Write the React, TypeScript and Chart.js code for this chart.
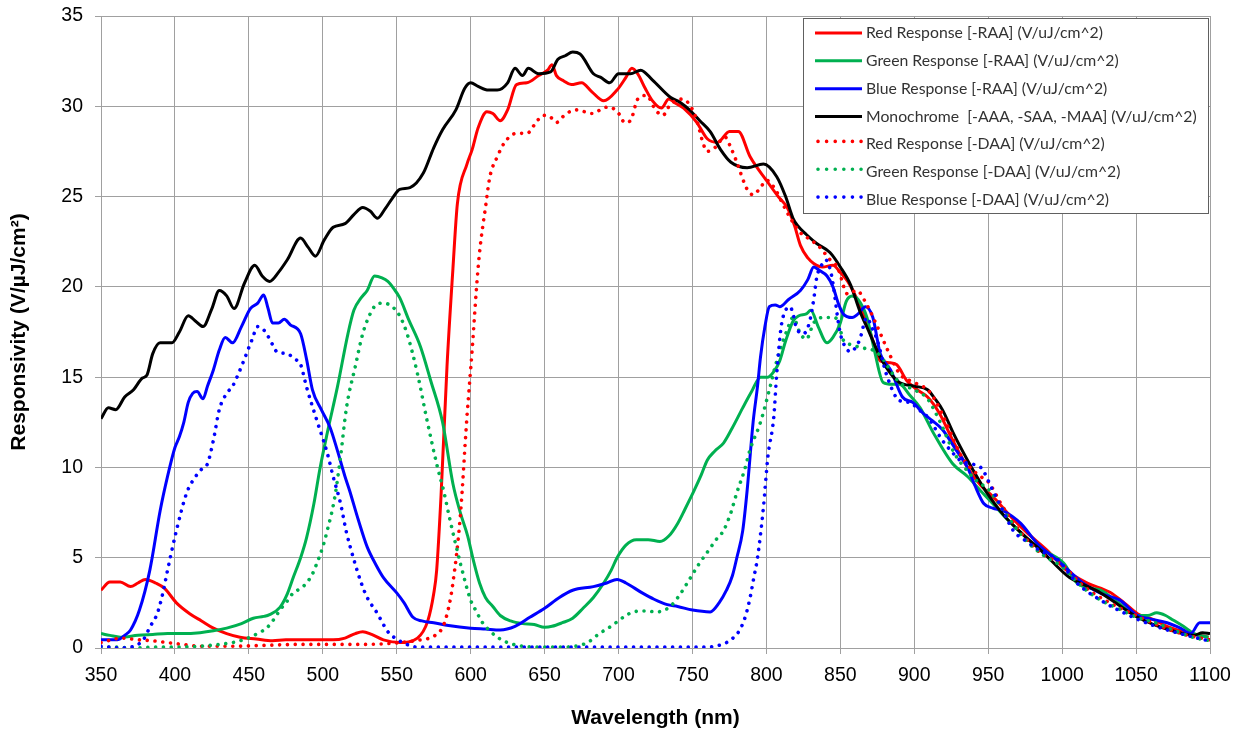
import React, { useEffect, useRef } from "react";
import { Chart, registerables } from "chart.js";

Chart.register(...registerables);

// ---- data (wavelength nm, responsivity V/uJ/cm^2) ----
const xTicksMin = 350;
const xTicksMax = 1100;
const yTicksMax = 35;

const seriesLabels = [
  "Red Response [-RAA] (V/uJ/cm^2)",
  "Green Response [-RAA] (V/uJ/cm^2)",
  "Blue Response [-RAA] (V/uJ/cm^2)",
  "Monochrome  [-AAA, -SAA, -MAA] (V/uJ/cm^2)",
  "Red Response [-DAA] (V/uJ/cm^2)",
  "Green Response [-DAA] (V/uJ/cm^2)",
  "Blue Response [-DAA] (V/uJ/cm^2)",
];

const redRaa: [number, number][] = [
  [350, 3.2], [356, 3.65], [363, 3.65], [370, 3.4], [375, 3.6], [380, 3.8], [387, 3.6], [393, 3.3],
  [401, 2.5], [410, 1.9], [418, 1.5], [426, 1.1], [435, 0.8], [444, 0.6], [455, 0.5], [466, 0.4],
  [475, 0.45], [485, 0.45], [495, 0.45], [507, 0.45], [515, 0.55], [522, 0.8], [527, 0.9], [533, 0.75],
  [541, 0.45], [552, 0.3], [564, 0.55], [571, 1.5], [575, 3.0], [577, 4.3], [580, 8.5], [584, 15.6],
  [588, 21], [591, 24.6], [597.5, 26.8], [601, 27.6], [605, 28.8], [611, 29.7], [615, 29.6], [620, 29.2],
  [625, 29.8], [631, 31.2], [638, 31.3], [646, 31.7], [652, 32.0], [655, 32.3], [658, 31.7], [663, 31.4],
  [668, 31.2], [675, 31.3], [682, 30.8], [690, 30.3], [699, 30.9], [705, 31.6], [709, 32.1], [713, 31.8],
  [718, 31.0], [723, 30.3], [729, 29.9], [734, 30.4], [738, 30.2], [744, 29.9], [753, 29.1], [760, 28.2],
  [767, 28.0], [775, 28.6], [781, 28.6], [789, 27.2], [800, 25.9], [808, 25.0], [814, 24.4], [819, 23.4],
  [823, 22.3], [828, 21.6], [832, 21.3], [838, 21.1], [845, 21.2], [850, 20.8], [855, 20.3], [862, 19.2],
  [868, 18.0], [873, 16.8], [877, 15.9], [883, 15.8], [888, 15.7], [895, 14.8], [902, 14.3], [909, 13.9],
  [917, 13.0], [926, 11.5], [936, 10.0], [945, 9.0], [953, 8.4], [965, 7.3], [976, 6.4], [990, 5.4],
  [1003, 4.3], [1017, 3.6], [1032, 3.1], [1042, 2.5], [1051, 1.9], [1061, 1.6], [1071, 1.2], [1087, 0.8],
  [1099, 0.6],
];

const greenRaa: [number, number][] = [
  [350, 0.8], [356, 0.7], [363, 0.6], [375, 0.7], [385, 0.75], [395, 0.8], [405, 0.8], [417, 0.85],
  [426, 0.95], [435, 1.1], [445, 1.35], [453, 1.65], [460, 1.75], [464, 1.85], [471, 2.25], [476, 3.0],
  [480, 3.9], [485, 5.0], [489, 6.1], [494, 8.0], [498, 9.9], [503, 11.9], [510, 14.5], [517, 17.4],
  [521, 18.7], [526, 19.4], [530, 19.8], [535, 20.6], [540, 20.5], [544, 20.3], [548, 19.9], [552, 19.4],
  [558, 18.2], [566, 16.7], [573, 14.8], [581, 12.5], [588, 9.1], [593, 7.5], [598, 6.2], [602, 4.8],
  [606, 3.6], [610, 2.8], [615, 2.3], [620, 1.8], [627, 1.5], [635, 1.35], [643, 1.3], [650, 1.15],
  [655, 1.2], [662, 1.4], [669, 1.65], [676, 2.2], [683, 2.8], [690, 3.6], [695, 4.3], [699, 5.0],
  [705, 5.7], [712, 6.0], [720, 6.0], [728, 5.9], [734, 6.2], [740, 6.9], [745, 7.7], [751, 8.7],
  [756, 9.6], [760, 10.4], [765, 10.9], [771, 11.35], [777, 12.2], [784, 13.3], [790, 14.2], [796, 15.0],
  [801, 15.0], [805, 15.3], [809, 15.9], [813, 17.0], [818, 18.1], [822, 18.4], [827, 18.5], [830, 18.7],
  [835, 17.8], [841, 16.9], [845, 17.2], [850, 18.0], [854, 19.2], [858, 19.5], [862, 19.3], [868, 18.3],
  [873, 16.5], [879, 14.7], [885, 14.6], [890, 14.6], [897, 14.0], [904, 13.3], [913, 11.9], [926, 10.2],
  [936, 9.5], [945, 8.7], [953, 8.0], [962, 7.2], [972, 6.4], [980, 5.8], [990, 5.3], [1001, 4.7],
  [1010, 3.6], [1020, 3.3], [1026, 3.2], [1038, 2.5], [1051, 1.8], [1058, 1.8], [1064, 1.95], [1070, 1.8],
  [1075, 1.55], [1082, 1.2], [1089, 0.8], [1099, 0.6],
];

const blueRaa: [number, number][] = [
  [350, 0.45], [356, 0.45], [361, 0.45], [366, 0.7], [370, 1.0], [376, 2.1], [383, 4.3], [390, 7.6],
  [395, 9.5], [400, 11.1], [403, 11.7], [406, 12.5], [409, 13.6], [412, 14.1], [415, 14.2], [419, 13.8],
  [422, 14.5], [426, 15.4], [430, 16.5], [434, 17.2], [439, 16.9], [445, 17.8], [451, 18.8], [456, 19.1],
  [460, 19.55], [463, 18.8], [466, 18.0], [470, 18.0], [474, 18.2], [478, 17.9], [485, 17.4], [489, 16.0],
  [493, 14.3], [499, 13.2], [505, 12.2], [510, 10.9], [515, 9.5], [518, 8.75], [524, 7.1], [530, 5.6],
  [536, 4.6], [541, 3.9], [550, 3.05], [555, 2.5], [561, 1.7], [567, 1.5], [575, 1.4], [585, 1.25],
  [600, 1.1], [610, 1.05], [620, 1.0], [630, 1.2], [640, 1.7], [650, 2.2], [660, 2.8], [669, 3.2],
  [683, 3.4], [692, 3.6], [699, 3.8], [705, 3.6], [716, 3.05], [724, 2.7], [733, 2.4], [740, 2.3],
  [750, 2.1], [762, 2.0], [768, 2.5], [773, 3.2], [777, 4.0], [780, 5.0], [784, 6.5], [787, 8.75],
  [791, 12.5], [794, 14.5], [796, 16.1], [799, 17.8], [802, 18.9], [806, 19.0], [809, 18.9], [815, 19.3],
  [823, 19.8], [828, 20.4], [832, 21.1], [836, 20.9], [841, 20.6], [845, 20.0], [849, 19.0], [852, 18.5],
  [858, 18.3], [862, 18.5], [867, 18.9], [872, 18.3], [877, 16.3], [884, 15.4], [892, 13.9], [899, 13.6],
  [906, 13.0], [912, 12.6], [919, 12.1], [928, 11.0], [936, 10.0], [941, 9.0], [947, 8.0], [953, 7.75],
  [960, 7.6], [972, 6.9], [983, 5.8], [999, 4.7], [1014, 3.6], [1027, 3.0], [1039, 2.65], [1051, 1.8],
  [1060, 1.6], [1071, 1.4], [1080, 1.1], [1087, 0.8], [1093, 1.4], [1100, 1.4],
];

const mono: [number, number][] = [
  [350, 12.7], [355, 13.3], [360, 13.2], [366, 13.9], [372, 14.3], [378, 14.95], [381, 15.1], [385, 16.3],
  [390, 16.9], [398, 16.9], [403, 17.5], [409, 18.4], [414, 18.1], [419, 17.8], [425, 18.8], [430, 19.8],
  [435, 19.5], [440, 18.8], [447, 20.2], [454, 21.2], [459, 20.6], [464, 20.3], [470, 20.8], [476, 21.5],
  [485, 22.7], [490, 22.2], [495, 21.7], [501, 22.6], [507, 23.3], [515, 23.5], [521, 24.0], [527, 24.4],
  [532, 24.2], [537, 23.8], [542, 24.3], [547, 24.9], [552, 25.4], [559, 25.5], [568, 26.3], [575, 27.7],
  [581, 28.7], [590, 29.8], [596, 31.0], [600, 31.3], [605, 31.1], [612, 30.9], [618, 30.9], [625, 31.3],
  [630, 32.1], [635, 31.7], [639, 32.1], [646, 31.8], [654, 31.9], [659, 32.6], [664, 32.8], [669, 33.0],
  [674, 32.9], [683, 31.8], [688, 31.6], [694, 31.3], [700, 31.8], [708, 31.8], [715, 32.0], [723, 31.45],
  [735, 30.5], [742, 30.2], [748, 29.8], [755, 29.2], [762, 28.6], [769, 27.6], [776, 26.9], [787, 26.6],
  [798, 26.8], [807, 26.1], [813, 25.0], [818, 23.8], [821, 23.4], [827, 22.9], [834, 22.4], [843, 21.9],
  [850, 21.1], [857, 20.1], [863, 18.7], [870, 17.4], [877, 16.1], [884, 15.2], [890, 14.7], [900, 14.5],
  [909, 14.3], [914, 13.8], [919, 13.2], [927, 11.8], [936, 10.4], [943, 9.4], [949, 8.6], [960, 7.4],
  [972, 6.4], [987, 5.3], [1005, 3.9], [1015, 3.5], [1026, 3.05], [1038, 2.4], [1051, 1.7], [1062, 1.3],
  [1073, 1.0], [1089, 0.7], [1095, 0.85], [1100, 0.8],
];

const redDaa: [number, number][] = [
  [350, 0.3], [357, 0.45], [363, 0.55], [376, 0.45], [385, 0.4], [395, 0.3], [405, 0.2], [417, 0.1],
  [439, 0.1], [462, 0.15], [484, 0.2], [507, 0.2], [530, 0.2], [552, 0.3], [566, 0.45], [575, 0.65],
  [581, 1.15], [585, 2.2], [588, 3.6], [593, 7.3], [597.5, 12.8], [601, 16.5], [604, 20.0], [606, 21.9],
  [610, 24.4], [613, 26.1], [618, 27.2], [623, 28.0], [631, 28.5], [638, 28.5], [645, 29.2], [649, 29.5],
  [654, 29.4], [658, 29.1], [662, 29.4], [667, 29.7], [672, 29.8], [682, 29.6], [692, 29.95], [698, 29.8],
  [701, 29.5], [704, 29.1], [708, 29.2], [713, 30.4], [719, 30.6], [725, 29.8], [730, 29.5], [735, 30.1],
  [743, 30.4], [748, 30.1], [753, 29.2], [757, 28.0], [760, 27.5], [765, 27.7], [772, 28.3], [776, 27.7],
  [780, 26.9], [787, 25.4], [791, 25.1], [796, 25.5], [800, 25.9], [806, 25.4], [811, 24.6], [817, 23.7],
  [823, 23.0], [830, 22.6], [836, 22.2], [843, 21.5], [848, 21.1], [855, 19.6], [861, 19.8], [868, 19.0],
  [875, 17.8], [882, 16.5], [890, 15.2], [900, 14.7], [909, 14.3], [915, 13.6], [922, 12.4], [932, 10.6],
  [943, 9.6], [950, 9.2], [960, 7.8], [972, 6.4], [985, 5.3], [1000, 4.6], [1015, 3.4], [1030, 2.6],
  [1050, 1.8], [1070, 1.1], [1085, 0.7], [1100, 0.45],
];

const greenDaa: [number, number][] = [
  [350, 0.05], [360, 0.05], [372, 0.0], [385, 0.05], [395, 0.05], [417, 0.1], [430, 0.2], [439, 0.3],
  [446, 0.45], [451, 0.6], [457, 0.85], [462, 1.1], [467, 1.6], [471, 2.1], [476, 2.6], [480, 3.05],
  [485, 3.3], [489, 3.6], [493, 4.1], [496, 4.7], [500, 5.6], [503, 6.5], [508, 8.3], [512, 10.6],
  [516, 13.3], [522, 15.6], [527, 17.4], [532, 18.5], [536, 19.0], [541, 19.1], [547, 18.9], [552, 18.4],
  [557, 17.4], [564, 15.2], [570, 12.8], [577, 10.2], [582, 8.6], [586, 7.1], [593, 4.7], [600, 2.65],
  [604, 2.0], [608, 1.4], [613, 0.95], [618, 0.6], [625, 0.3], [635, 0.1], [650, 0.05], [660, 0.05],
  [674, 0.15], [680, 0.35], [687, 0.8], [693, 1.1], [699, 1.45], [705, 1.8], [710, 2.0], [718, 2.05],
  [726, 2.0], [735, 2.3], [741, 2.9], [748, 3.8], [754, 4.6], [760, 5.3], [766, 6.0], [771, 6.5],
  [776, 7.5], [780, 8.6], [785, 9.8], [789, 11.0], [796, 12.5], [802, 14.3], [806, 15.6], [810, 16.7],
  [814, 17.6], [818, 18.3], [823, 17.4], [827, 17.1], [832, 18.0], [838, 18.3], [845, 18.3], [848, 18.2],
  [852, 17.05], [857, 16.8], [861, 16.7], [866, 16.6], [872, 16.5], [877, 16.2], [882, 15.6], [890, 14.7],
  [900, 14.3], [909, 13.8], [917, 12.6], [927, 10.8], [936, 9.8], [943, 9.2], [950, 8.8], [962, 7.4],
  [975, 6.0], [988, 5.1], [1000, 4.5], [1012, 3.5], [1025, 2.7], [1040, 2.1], [1050, 1.7], [1063, 1.4],
  [1075, 1.0], [1088, 0.6], [1100, 0.4],
];

const blueDaa: [number, number][] = [
  [350, 0.1], [356, 0.05], [363, 0.0], [370, 0.05], [374, 0.15], [379, 0.5], [383, 1.15], [388, 1.9],
  [392, 3.1], [395, 4.3], [401, 6.5], [408, 8.6], [414, 9.5], [418, 9.9], [422, 10.2], [426, 11.5],
  [430, 13.2], [435, 14.1], [439, 14.5], [443, 15.2], [446, 15.8], [452, 17.05], [456, 17.8], [459, 17.7],
  [462, 17.4], [466, 16.8], [469, 16.4], [476, 16.3], [481, 16.0], [485, 15.7], [489, 14.45], [496, 12.6],
  [503, 10.8], [507, 9.5], [512, 8.0], [516, 6.4], [521, 4.9], [526, 3.6], [530, 2.8], [537, 1.9],
  [541, 1.3], [545, 0.8], [550, 0.5], [554, 0.3], [564, 0.05], [580, 0.05], [600, 0.05], [620, 0.05],
  [650, 0.05], [680, 0.05], [710, 0.05], [740, 0.05], [760, 0.05], [768, 0.15], [773, 0.3], [778, 0.6],
  [782, 1.0], [786, 1.8], [789, 2.8], [791.5, 3.9], [794, 5.0], [798, 7.8], [801, 10.6], [805, 12.8],
  [807, 15.2], [810, 17.8], [813, 18.7], [816, 18.9], [818, 18.5], [820, 17.8], [825, 17.4], [829, 18.0],
  [832, 19.3], [834, 20.5], [838, 21.3], [840, 21.5], [843, 21.0], [845, 20.2], [848, 18.4], [850, 17.4],
  [854, 16.6], [857, 16.4], [860, 16.6], [863, 17.05], [868, 18.3], [871, 17.8], [875, 17.05], [881, 15.2],
  [890, 13.7], [897, 13.6], [903, 13.2], [909, 12.8], [919, 11.5], [925, 10.9], [931, 10.4], [938, 10.2],
  [945, 10.0], [953, 8.75], [960, 7.6], [967, 6.5], [976, 5.9], [985, 5.4], [997, 4.9], [1010, 3.6],
  [1026, 2.65], [1048, 1.7], [1060, 1.3], [1071, 1.0], [1089, 0.6], [1099, 0.4],
];

const seriesData = [redRaa, greenRaa, blueRaa, mono, redDaa, greenDaa, blueDaa];
const seriesColors = ["#ff0000", "#00b050", "#0000ff", "#000000", "#ff0000", "#00b050", "#0000ff"];
const seriesDotted = [false, false, false, false, true, true, true];

const FONT = "'Liberation Sans', Arial, sans-serif";
const LEGEND_FONT = "Lato, 'Open Sans', sans-serif";

const legendPlugin = {
  id: "boxLegend",
  afterDatasetsDraw(chart: any) {
    const ctx = chart.ctx as CanvasRenderingContext2D;
    ctx.save();
    const x0 = 803, y0 = 18, w = 405, h = 195;
    ctx.fillStyle = "#ffffff";
    ctx.fillRect(x0, y0, w, h);
    ctx.strokeStyle = "#606060";
    ctx.lineWidth = 1;
    ctx.strokeRect(x0 + 0.5, y0 + 0.5, w, h);
    // fit font so the longest label spans the same width as in the reference
    ctx.font = `14px ${LEGEND_FONT}`;
    let maxW = 0;
    chart.data.datasets.forEach((d: any) => {
      maxW = Math.max(maxW, ctx.measureText(d.label).width);
    });
    const fs = Math.min(17, (14 * 331) / maxW);
    ctx.font = `${fs}px ${LEGEND_FONT}`;
    ctx.textBaseline = "middle";
    chart.data.datasets.forEach((d: any, i: number) => {
      const y = 33 + i * 27.85;
      ctx.strokeStyle = d.borderColor;
      if (seriesDotted[i]) {
        ctx.lineCap = "round";
        ctx.setLineDash([0.01, 8.6]);
        ctx.lineWidth = 3.6;
        ctx.beginPath();
        ctx.moveTo(818, y - 3);
        ctx.lineTo(862, y - 3);
        ctx.stroke();
      } else {
        ctx.lineCap = "butt";
        ctx.setLineDash([]);
        ctx.lineWidth = 3;
        ctx.beginPath();
        ctx.moveTo(815, y);
        ctx.lineTo(862, y);
        ctx.stroke();
      }
      ctx.setLineDash([]);
      ctx.fillStyle = "#333333";
      ctx.fillText(d.label, 866, y);
    });
    ctx.restore();
  },
};

export default function App() {
  const ref = useRef<HTMLCanvasElement>(null);
  useEffect(() => {
    if (!ref.current) return;
    const datasets = seriesData.map((pts, i) => ({
      label: seriesLabels[i],
      data: pts.map(([x, y]) => ({ x, y })),
      borderColor: seriesColors[i],
      backgroundColor: seriesColors[i],
      borderWidth: seriesDotted[i] ? 3.6 : 3,
      borderDash: seriesDotted[i] ? [0.01, 7.8] : [],
      borderCapStyle: seriesDotted[i] ? "round" : "butt",
      borderJoinStyle: "round",
      pointRadius: 0,
      fill: false,
      cubicInterpolationMode: "monotone",
      order: 7 - i,
    }));
    const chart = new Chart(ref.current, {
      type: "line",
      data: { datasets } as any,
      options: {
        animation: false,
        responsive: false,
        devicePixelRatio: 1,
        layout: { padding: { top: 16, right: 31, left: 0, bottom: 0 } },
        plugins: { legend: { display: false }, tooltip: { enabled: false } },
        scales: {
          x: {
            type: "linear",
            min: xTicksMin,
            max: xTicksMax,
            ticks: {
              stepSize: 50,
              color: "#000",
              padding: 10,
              font: { family: FONT, size: 19.5 },
              maxRotation: 0,
              callback: (v: any) => String(v),
            },
            grid: { color: "#a0a0a0", lineWidth: 1, tickLength: 6, tickColor: "#a0a0a0" },
            border: { color: "#a0a0a0" },
            title: {
              display: true,
              text: "Wavelength (nm)",
              color: "#000",
              font: { family: FONT, size: 21, weight: "bold" },
              padding: { top: 0, bottom: 2 },
            },
            afterFit: (s: any) => {
              s.height = 85;
              s.paddingLeft = 0;
              s.paddingRight = 0;
            },
          },
          y: {
            min: 0,
            max: yTicksMax,
            ticks: {
              stepSize: 5,
              color: "#000",
              padding: 12,
              font: { family: FONT, size: 19.5 },
              callback: (v: any) => String(v),
            },
            grid: { color: "#a0a0a0", lineWidth: 1, tickLength: 6, tickColor: "#a0a0a0" },
            border: { color: "#a0a0a0" },
            title: {
              display: true,
              text: "Responsivity (V/µJ/cm²)",
              color: "#000",
              font: { family: FONT, size: 21, weight: "bold" },
              padding: { top: 7, bottom: 0 },
            },
            afterFit: (s: any) => {
              s.width = 101;
              s.paddingTop = 0;
              s.paddingBottom = 0;
            },
          },
        },
      } as any,
      plugins: [legendPlugin],
    });
    return () => chart.destroy();
  }, []);
  return (
    <div style={{ position: "fixed", left: 0, top: 0, width: 1241, height: 733, background: "#fff" }}>
      <canvas ref={ref} width={1241} height={733} style={{ width: 1241, height: 733, display: "block" }} />
    </div>
  );
}
